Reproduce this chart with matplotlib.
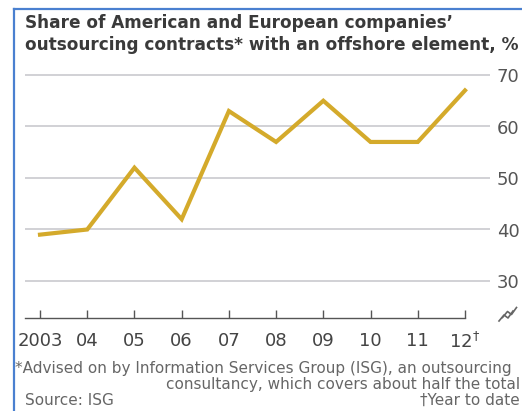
import matplotlib
matplotlib.use("Agg")
import matplotlib.pyplot as plt
from matplotlib.lines import Line2D

# data
years = [2003, 2004, 2005, 2006, 2007, 2008, 2009, 2010, 2011, 2012]
share = [39, 40, 52, 42, 63, 57, 65, 57, 57, 67]
year_labels = ["2003", "04", "05", "06", "07", "08", "09", "10", "11", "12$^{\u2020}$"]
y_ticks = [30, 40, 50, 60, 70]

W, H = 522, 411
fig = plt.figure(figsize=(W / 100, H / 100), dpi=100)
fig.patch.set_facecolor("white")

def px(x, y):
    # pixel coords (from top-left) -> figure fraction
    return x / W, 1 - y / H

# axes box: left 25px, right 490px, baseline at 318px, 70 gridline at 75px
ppu = 5.15
base_y, top_y = 318, 75 - ppu
ax = fig.add_axes([25 / W, (H - base_y) / H, (490 - 25) / W, (base_y - top_y) / H])
ax.plot(years, share, color="#D4AA2B", linewidth=3.0, solid_joinstyle="miter", zorder=3)

ax.set_xlim(2003 - 15 / 47.2, 2012 + 25 / 47.2)
ax.set_ylim(30 - (base_y - 281) / ppu, 71)

# gridlines and right-hand labels
ax.set_yticks(y_ticks)
ax.yaxis.tick_right()
ax.grid(axis="y", color="#C9C9CE", linewidth=1.2)
ax.tick_params(axis="y", length=0, pad=5, labelsize=13, labelcolor="#555555")
ax.set_axisbelow(True)

# bottom axis with inward ticks
ax.set_xticks(years)
ax.set_xticklabels(year_labels)
ax.tick_params(axis="x", direction="in", length=6, width=1, color="#555555",
               pad=10, labelsize=13, labelcolor="#444444")
for s in ["top", "right", "left"]:
    ax.spines[s].set_visible(False)
ax.spines["bottom"].set_color("#555555")
ax.spines["bottom"].set_linewidth(1)
ax.spines["bottom"].set_bounds(ax.get_xlim()[0], 2012)

# axis break mark
for dx in (0, 3.5):
    fig.add_artist(Line2D(
        [(499 + dx) / W, (504 + dx) / W, (508 + dx) / W, (513 + dx) / W],
        [1 - (321 - dx) / H, 1 - (315 - dx) / H,
         1 - (318 - dx) / H, 1 - (311 - dx) / H],
        color="#666666", linewidth=1.2))

# title
tc = "#3a3a3a"
fig.text(*px(25, 28), "Share of American and European companies\u2019",
         fontsize=12.2, fontweight="bold", color=tc, va="baseline")
fig.text(*px(25, 50), "outsourcing contracts* with an offshore element, %",
         fontsize=12.2, fontweight="bold", color=tc, va="baseline")

# footnotes
nc = "#666666"
fig.text(*px(15, 373), "*Advised on by Information Services Group (ISG), an outsourcing",
         fontsize=11, color=nc, va="baseline")
fig.text(*px(520, 389), "consultancy, which covers about half the total",
         fontsize=11, color=nc, va="baseline", ha="right")
fig.text(*px(25, 405), "Source: ISG", fontsize=11, color=nc, va="baseline")
fig.text(*px(520, 405), "\u2020Year to date", fontsize=11, color=nc, va="baseline", ha="right")

# blue frame of the screenshot
fig.add_artist(Line2D([14 / W, 14 / W], [0, 1 - 9 / H], color="#4A80D0", linewidth=1.6))
fig.add_artist(Line2D([14 / W, 1], [1 - 9 / H, 1 - 9 / H], color="#4A80D0", linewidth=1.6))

fig.savefig("out.png", dpi=100, facecolor="white")
